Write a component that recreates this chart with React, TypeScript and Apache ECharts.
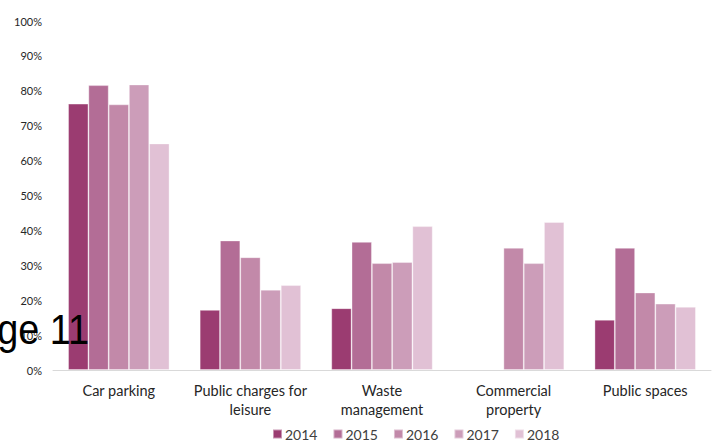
import React, { useEffect, useRef } from "react";
import * as echarts from "echarts";

const categories = [
  "Car parking",
  "Public charges for\nleisure",
  "Waste\nmanagement",
  "Commercial\nproperty",
  "Public spaces",
];
const years = ["2014", "2015", "2016", "2017", "2018"];
const values2014 = [0.763, 0.172, 0.177, null, 0.144];
const values2015 = [0.816, 0.371, 0.367, null, 0.35];
const values2016 = [0.761, 0.323, 0.306, 0.35, 0.222];
const values2017 = [0.818, 0.23, 0.309, 0.306, 0.19];
const values2018 = [0.649, 0.243, 0.412, 0.424, 0.181];
const yTicks = [0, 0.1, 0.2, 0.3, 0.4, 0.5, 0.6, 0.7, 0.8, 0.9, 1];
const colors = ["#9B3C71", "#B36D96", "#C289A9", "#CC9DB9", "#E1C1D5"];

export default function App() {
  const ref = useRef<HTMLDivElement>(null);
  useEffect(() => {
    if (!ref.current) return;
    const chart = echarts.init(ref.current, null, { renderer: "svg" });
    const allValues = [values2014, values2015, values2016, values2017, values2018];
    chart.setOption({
      animation: false,
      color: colors,
      grid: { left: 53, right: 5, top: 21, bottom: 71, containLabel: false },
      legend: {
        left: 272,
        top: 427,
        padding: 0,
        itemWidth: 9,
        itemHeight: 9,
        itemGap: 15,
        icon: "rect",
        textStyle: { fontFamily: "Lato", fontSize: 14, color: "#404040", padding: [0, 0, 0, -2] },
        data: years,
      },
      xAxis: {
        type: "category",
        data: categories,
        axisLine: { lineStyle: { color: "#D9D9D9", width: 1 } },
        axisTick: { show: false },
        axisLabel: {
          fontFamily: "Lato",
          fontSize: 14.5,
          color: "#262626",
          lineHeight: 19,
          margin: 11,
          interval: 0,
        },
      },
      yAxis: {
        type: "value",
        min: yTicks[0],
        max: yTicks[yTicks.length - 1],
        interval: 0.1,
        splitLine: { show: false },
        axisLine: { show: false },
        axisTick: { show: false },
        axisLabel: {
          fontFamily: "Lato",
          fontSize: 11,
          color: "#262626",
          margin: 11,
          formatter: (v: number) => Math.round(v * 100) + "%",
        },
      },
      series: years.map((y, i) => ({
        name: y,
        type: "bar",
        data: allValues[i],
        barGap: "0%",
        barCategoryGap: "23%",
        itemStyle: { color: colors[i], borderColor: "rgba(255,255,255,0.45)", borderWidth: 0.8 },
      })),
      graphic: [
        {
          type: "text",
          x: 89,
          y: 350,
          scaleX: 0.9,
          z: 100,
          style: {
            text: "Page 11",
            fontFamily: "Liberation Sans",
            fontSize: 42,
            fill: "#000000",
            align: "right",
            verticalAlign: "bottom",
          },
        },
      ],
    });
    return () => chart.dispose();
  }, []);
  return <div ref={ref} style={{ width: 716, height: 441, position: "absolute", left: 0, top: 0 }} />;
}
